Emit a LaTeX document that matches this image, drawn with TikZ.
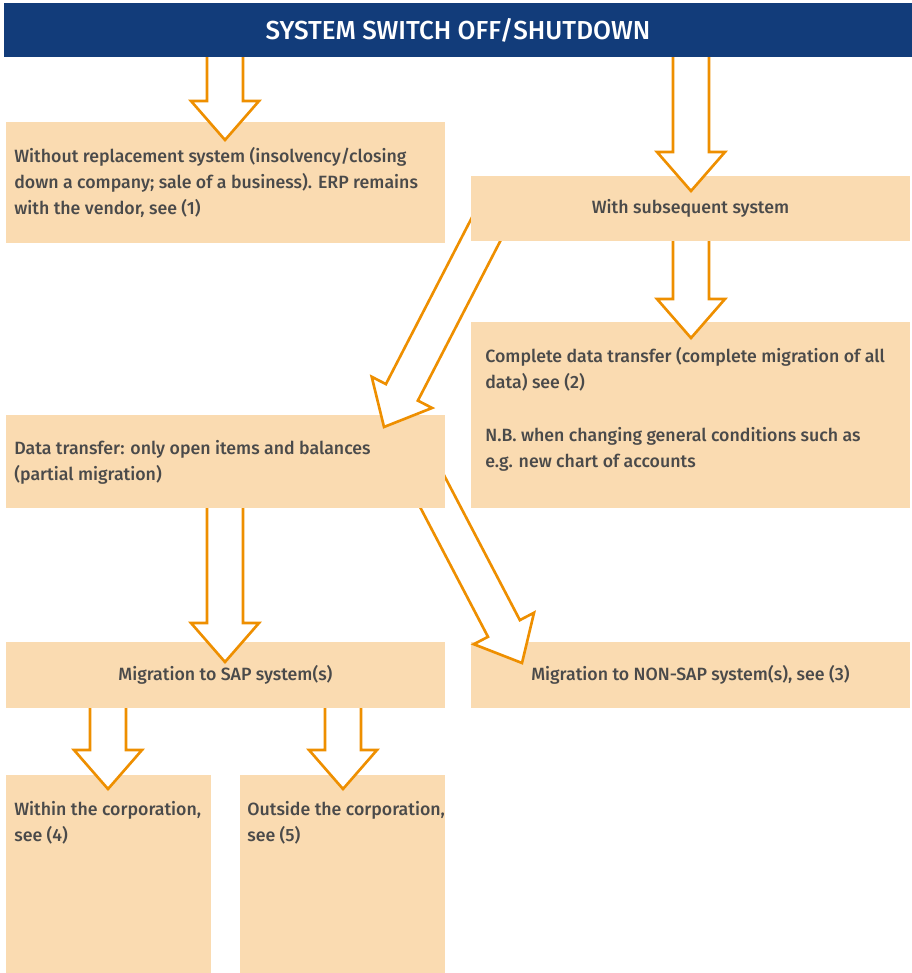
\documentclass[tikz,border=0pt]{standalone}
\usepackage{fontspec}
\setmainfont{Fira Sans}[UprightFont={* Medium}]
\usetikzlibrary{calc,positioning}
\definecolor{hdrblue}{HTML}{123C7A}
\definecolor{peach}{HTML}{FADBB1}
\definecolor{arrorange}{HTML}{EE8F00}
\definecolor{ink}{HTML}{4A4A4A}
\tikzset{
  box/.style={fill=peach,inner sep=0pt,outer sep=0pt,anchor=north west,
    text=ink,font=\fontsize{10.1}{14.8}\selectfont},
  txt/.style={anchor=north west,inner sep=0pt,align=left,text=ink,
    font=\fontsize{10.1}{14.8}\selectfont},
  blockarr/.style={draw=arrorange,fill=white,line width=1.5pt,line join=miter}
}
% hollow block arrow from #1 (tail) to #2 (tip)
\newcommand\blockarrow[2]{%
  \coordinate (neck) at ($(#2)!0.78cm!(#1)$);
  \filldraw[blockarr] ($(#1)!0.36cm!90:(#2)$)--($(neck)!0.36cm!90:(#2)$)
    --($(neck)!0.68cm!90:(#2)$)--(#2)--($(neck)!0.68cm!-90:(#2)$)
    --($(neck)!0.36cm!-90:(#2)$)--($(#1)!0.36cm!-90:(#2)$)--cycle;}

\begin{document}
\begin{tikzpicture}[x=0.02cm,y=-0.02cm]
  \useasboundingbox(0,0)rectangle(912,973);
  % arrow ends
  \coordinate(a1s)at(225,40);  \coordinate(a1e)at(225,140);
  \coordinate(a2s)at(691,40);  \coordinate(a2e)at(691,191);
  \coordinate(a3s)at(691,225); \coordinate(a3e)at(691,338);
  \coordinate(a4s)at(494,214); \coordinate(a4e)at(384,427);
  \coordinate(a5s)at(225,490); \coordinate(a5e)at(225,662);
  \coordinate(a6s)at(421,470); \coordinate(a6e)at(522,663);
  \coordinate(a7s)at(108,690); \coordinate(a7e)at(108,789);
  \coordinate(a8s)at(343,690); \coordinate(a8e)at(343,789);

  % bottom row
  \node[box,minimum width=4.10cm,minimum height=3.96cm](within)at(6,775){};
  \node[txt]at([shift={(8,26)}]within.north west){Within the corporation,\\see (4)};
  \node[box,minimum width=4.10cm,minimum height=3.96cm](outside)at(240,775){};
  \node[txt]at([shift={(7,26)}]outside.north west){Outside the corporation,\\see (5)};
  \blockarrow{a7s}{a7e}%SAP -> within
  \blockarrow{a8s}{a8e}%SAP -> outside

  % migration row
  \node[box,minimum width=8.78cm,minimum height=1.32cm](sap)at(6,642){Migration to SAP system(s)};
  \node[box,minimum width=8.78cm,minimum height=1.32cm](nonsap)at(471,642){Migration to NON-SAP system(s), see (3)};
  \blockarrow{a5s}{a5e}%partial -> SAP
  \blockarrow{a6s}{a6e}%partial -> NON-SAP

  % partial / complete transfer
  \node[box,minimum width=8.78cm,minimum height=1.86cm](partial)at(6,415){};
  \node[txt]at([shift={(8,25)}]partial.north west){Data transfer: only open items and balances\\(partial migration)};
  \node[box,minimum width=8.78cm,minimum height=3.72cm](complete)at(471,322){};
  \node[txt]at([shift={(14,25)}]complete.north west){Complete data transfer (complete migration of all\\data) see (2)\\[15.5pt]N.B. when changing general conditions such as\\e.g. new chart of accounts};
  \blockarrow{a4s}{a4e}%subsequent -> partial
  \blockarrow{a3s}{a3e}%subsequent -> complete

  % second row
  \node[box,minimum width=8.78cm,minimum height=1.30cm](subseq)at(471,176){With subsequent system};
  \node[box,minimum width=8.78cm,minimum height=2.42cm](noreplace)at(6,122){};
  \node[txt]at([shift={(8,25)}]noreplace.north west){Without replacement system (insolvency/closing\\down a company; sale of a business). ERP remains\\with the vendor, see (1)};
  \blockarrow{a1s}{a1e}%header -> without
  \blockarrow{a2s}{a2e}%header -> subsequent

  % header
  \node[box,fill=hdrblue,text=white,minimum width=18.16cm,minimum height=1.08cm,
    font=\fontsize{14.8}{16}\selectfont](hdr)at(4,3){SYSTEM SWITCH OFF/SHUTDOWN};
\end{tikzpicture}
\end{document}
